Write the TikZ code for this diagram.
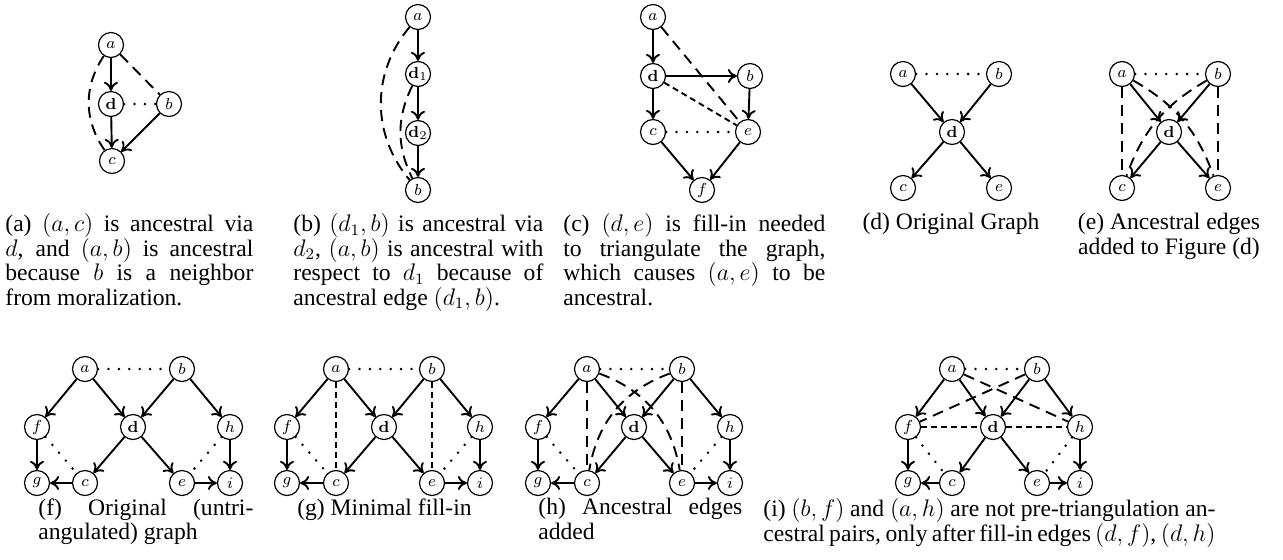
\documentclass[tikz,border=0pt]{standalone}
\usepackage{amsmath,amssymb}
\usepackage[no-math]{fontspec}
\setmainfont{Liberation Serif}
\usepackage{xcolor}
\usepackage{tikz}
\usetikzlibrary{arrows.meta}

\newcommand{\captfont}{\fontsize{11.8}{12.3}\selectfont}

\tikzset{
    vnode/.style={circle, draw, semithick, minimum size=12.5pt, inner sep=0pt,
        font=\fontsize{8.5}{9}\selectfont},
    dir/.style={line width=0.95pt, -{To[length=4.5pt, width=7pt]}},
    moral/.style={line width=1.4pt, line cap=round, dash pattern=on 0pt off 5.2pt},
    fillin/.style={line width=0.95pt, dash pattern=on 3pt off 2pt},
    ances/.style={line width=0.95pt, dash pattern=on 5.5pt off 3.5pt},
    capt/.style={anchor=north west, inner sep=0pt, align=justify, font=\captfont},
    captc/.style={anchor=north, inner sep=0pt, align=center, font=\captfont}
}

\begin{document}
\begin{tikzpicture}[x=0.5pt, y=0.5pt]
    \useasboundingbox (0,0) rectangle (1283,-559);
    % Figure (a)
    \node[vnode] (Aa) at ( 111, -45) {$a$};
    \node[vnode] (Ad) at ( 111,-104) {$\mathbf{d}$};
    \node[vnode] (Ab) at ( 169,-104) {$b$};
    \node[vnode] (Ac) at ( 112,-161) {$c$};
    \draw[dir] (Aa) -- (Ad);
    \draw[dir] (Ad) -- (Ac);
    \draw[dir] (Ab) -- (Ac);
    \draw[moral] (Ad) -- (Ab);
    \draw[ances] (Aa) -- (Ab);
    \draw[ances] (Aa) to[bend right=34] (Ac);
    \node[capt, text width=124pt] (Acap) at (5,-213)
        {(a) $(a,c)$ is ancestral via\linebreak $d$, and $(a,b)$ is ancestral\linebreak
         because $b$ is a neighbor\linebreak from moralization.};
    % Figure (b)
    \node[vnode] (Ba)  at ( 418, -17) {$a$};
    \node[vnode] (Bd1) at ( 418, -74) {$\mathbf{d}_1$};
    \node[vnode] (Bd2) at ( 418,-133) {$\mathbf{d}_2$};
    \node[vnode] (Bb)  at ( 418,-190) {$b$};
    \draw[dir] (Ba) -- (Bd1);
    \draw[dir] (Bd1) -- (Bd2);
    \draw[dir] (Bd2) -- (Bb);
    \draw[ances] (Ba) to[bend right=40] (Bb);
    \draw[ances] (Bd1) to[bend right=26] (Bb);
    \node[capt, text width=125pt] (Bcap) at (293,-213)
        {(b) $(d_1,b)$ is ancestral via\linebreak $d_2$, $(a,b)$ is ancestral with\linebreak
         respect to $d_1$ because of\linebreak ancestral edge $(d_1,b)$.};
    % Figure (c)
    \node[vnode] (Ca) at ( 653, -17) {$a$};
    \node[vnode] (Cd) at ( 653, -76) {$\mathbf{d}$};
    \node[vnode] (Cb) at ( 750, -76) {$b$};
    \node[vnode] (Cc) at ( 653,-132) {$c$};
    \node[vnode] (Ce) at ( 748,-132) {$e$};
    \node[vnode] (Cf) at ( 702,-190) {$f$};
    \draw[dir] (Ca) -- (Cd);
    \draw[dir] (Cd) -- (Cb);
    \draw[dir] (Cd) -- (Cc);
    \draw[dir] (Cb) -- (Ce);
    \draw[dir] (Cc) -- (Cf);
    \draw[dir] (Ce) -- (Cf);
    \draw[fillin] (Cd) -- (Ce);
    \draw[ances] (Ca) -- (Ce);
    \draw[moral] (Cc) -- (Ce);
    \node[capt, text width=131pt] (Ccap) at (563,-213)
        {(c) $(d,e)$ is fill-in needed\linebreak to triangulate the graph,\linebreak
         which causes $(a,e)$ to be\linebreak ancestral.};
    % Figure (d)
    \node[vnode] (Da) at ( 903, -74) {$a$};
    \node[vnode] (Db) at ( 999, -74) {$b$};
    \node[vnode] (Dd) at ( 952,-132) {$\mathbf{d}$};
    \node[vnode] (Dc) at ( 903,-188) {$c$};
    \node[vnode] (De) at ( 999,-188) {$e$};
    \draw[dir] (Da) -- (Dd);
    \draw[dir] (Db) -- (Dd);
    \draw[dir] (Dd) -- (Dc);
    \draw[dir] (Dd) -- (De);
    \draw[moral] (Da) -- (Db);
    \node[captc] (Dcap) at (951,-213) {(d) Original Graph};
    % Figure (e)
    \node[vnode] (Ea) at (1122, -74) {$a$};
    \node[vnode] (Eb) at (1218, -74) {$b$};
    \node[vnode] (Ed) at (1169,-132) {$\mathbf{d}$};
    \node[vnode] (Ec) at (1122,-188) {$c$};
    \node[vnode] (Ee) at (1218,-188) {$e$};
    \draw[dir] (Ea) -- (Ed);
    \draw[dir] (Eb) -- (Ed);
    \draw[dir] (Ed) -- (Ec);
    \draw[dir] (Ed) -- (Ee);
    \draw[moral] (Ea) -- (Eb);
    \draw[ances] (Ea) -- (Ec);
    \draw[ances] (Eb) -- (Ee);
    \draw[ances] (Ea) to[bend left=20] (Ee);
    \draw[ances] (Eb) to[bend right=20] (Ec);
    \node[captc] (Ecap) at (1169,-213) {(e) Ancestral edges\\added to Figure (d)};
    % Figure (f)
    \node[vnode] (Fa) at (  85,-369) {$a$};
    \node[vnode] (Fb) at ( 182,-369) {$b$};
    \node[vnode] (Ff) at (  37,-427) {$f$};
    \node[vnode] (Fd) at ( 133,-427) {$\mathbf{d}$};
    \node[vnode] (Fh) at ( 230,-427) {$h$};
    \node[vnode] (Fg) at (  37,-483) {$g$};
    \node[vnode] (Fc) at (  85,-483) {$c$};
    \node[vnode] (Fe) at ( 182,-483) {$e$};
    \node[vnode] (Fi) at ( 230,-483) {$i$};
    \draw[dir] (Fa) -- (Ff);
    \draw[dir] (Fa) -- (Fd);
    \draw[dir] (Fb) -- (Fd);
    \draw[dir] (Fb) -- (Fh);
    \draw[dir] (Fd) -- (Fc);
    \draw[dir] (Fd) -- (Fe);
    \draw[dir] (Ff) -- (Fg);
    \draw[dir] (Fh) -- (Fi);
    \draw[dir] (Fc) -- (Fg);
    \draw[dir] (Fe) -- (Fi);
    \draw[moral] (Fa) -- (Fb);
    \draw[moral] (Ff) -- (Fc);
    \draw[moral] (Fh) -- (Fe);
    \node[capt, text width=107.5pt] (Fcap) at (38,-498)
        {(f) Original (untri-\linebreak angulated) graph};
    % Figure (g)
    \node[vnode] (Ga) at ( 336,-369) {$a$};
    \node[vnode] (Gb) at ( 432,-369) {$b$};
    \node[vnode] (Gf) at ( 287,-427) {$f$};
    \node[vnode] (Gd) at ( 384,-427) {$\mathbf{d}$};
    \node[vnode] (Gh) at ( 480,-427) {$h$};
    \node[vnode] (Gg) at ( 287,-483) {$g$};
    \node[vnode] (Gc) at ( 336,-483) {$c$};
    \node[vnode] (Ge) at ( 432,-483) {$e$};
    \node[vnode] (Gi) at ( 480,-483) {$i$};
    \draw[dir] (Ga) -- (Gf);
    \draw[dir] (Ga) -- (Gd);
    \draw[dir] (Gb) -- (Gd);
    \draw[dir] (Gb) -- (Gh);
    \draw[dir] (Gd) -- (Gc);
    \draw[dir] (Gd) -- (Ge);
    \draw[dir] (Gf) -- (Gg);
    \draw[dir] (Gh) -- (Gi);
    \draw[dir] (Gc) -- (Gg);
    \draw[dir] (Ge) -- (Gi);
    \draw[moral] (Ga) -- (Gb);
    \draw[moral] (Gf) -- (Gc);
    \draw[moral] (Gh) -- (Ge);
    \draw[fillin] (Ga) -- (Gc);
    \draw[fillin] (Gb) -- (Ge);
    \node[captc] (Gcap) at (384.5,-498) {(g) Minimal fill-in};
    % Figure (h)
    \node[vnode] (Ha) at ( 587,-369) {$a$};
    \node[vnode] (Hb) at ( 682,-369) {$b$};
    \node[vnode] (Hf) at ( 538,-427) {$f$};
    \node[vnode] (Hd) at ( 634,-427) {$\mathbf{d}$};
    \node[vnode] (Hh) at ( 730,-427) {$h$};
    \node[vnode] (Hg) at ( 538,-483) {$g$};
    \node[vnode] (Hc) at ( 587,-483) {$c$};
    \node[vnode] (He) at ( 682,-483) {$e$};
    \node[vnode] (Hi) at ( 730,-483) {$i$};
    \draw[dir] (Ha) -- (Hf);
    \draw[dir] (Ha) -- (Hd);
    \draw[dir] (Hb) -- (Hd);
    \draw[dir] (Hb) -- (Hh);
    \draw[dir] (Hd) -- (Hc);
    \draw[dir] (Hd) -- (He);
    \draw[dir] (Hf) -- (Hg);
    \draw[dir] (Hh) -- (Hi);
    \draw[dir] (Hc) -- (Hg);
    \draw[dir] (He) -- (Hi);
    \draw[moral] (Ha) -- (Hb);
    \draw[moral] (Hf) -- (Hc);
    \draw[moral] (Hh) -- (He);
    \draw[ances] (Ha) -- (Hc);
    \draw[ances] (Hb) -- (He);
    \draw[ances] (Ha) to[bend left=30] (He);
    \draw[ances] (Hb) to[bend right=30] (Hc);
    \node[capt, text width=102pt] (Hcap) at (538,-498)
        {(h) Ancestral edges\linebreak added};
    % Figure (i)
    \node[vnode] (Ia) at ( 952,-369) {$a$};
    \node[vnode] (Ib) at (1037,-369) {$b$};
    \node[vnode] (If) at ( 908,-427) {$f$};
    \node[vnode] (Id) at ( 993,-427) {$\mathbf{d}$};
    \node[vnode] (Ih) at (1080,-427) {$h$};
    \node[vnode] (Ig) at ( 908,-483) {$g$};
    \node[vnode] (Ic) at ( 952,-483) {$c$};
    \node[vnode] (Ie) at (1037,-483) {$e$};
    \node[vnode] (Ii) at (1080,-483) {$i$};
    \draw[dir] (Ia) -- (If);
    \draw[dir] (Ia) -- (Id);
    \draw[dir] (Ib) -- (Id);
    \draw[dir] (Ib) -- (Ih);
    \draw[dir] (Id) -- (Ic);
    \draw[dir] (Id) -- (Ie);
    \draw[dir] (If) -- (Ig);
    \draw[dir] (Ih) -- (Ii);
    \draw[dir] (Ic) -- (Ig);
    \draw[dir] (Ie) -- (Ii);
    \draw[moral] (Ia) -- (Ib);
    \draw[moral] (If) -- (Ic);
    \draw[moral] (Ih) -- (Ie);
    \draw[fillin] (If) -- (Id);
    \draw[fillin] (Id) -- (Ih);
    \draw[ances] (Ib) -- (If);
    \draw[ances] (Ia) -- (Ih);
    \node[capt, text width=226pt] (Icap) at (763,-498)
        {\parfillskip=0pt (i) $(b,f)$ and $(a,h)$ are not pre-triangulation an-\linebreak
         cestral pairs, only after fill-in edges $(d,f)$, $(d,h)$};
\end{tikzpicture}
\end{document}
